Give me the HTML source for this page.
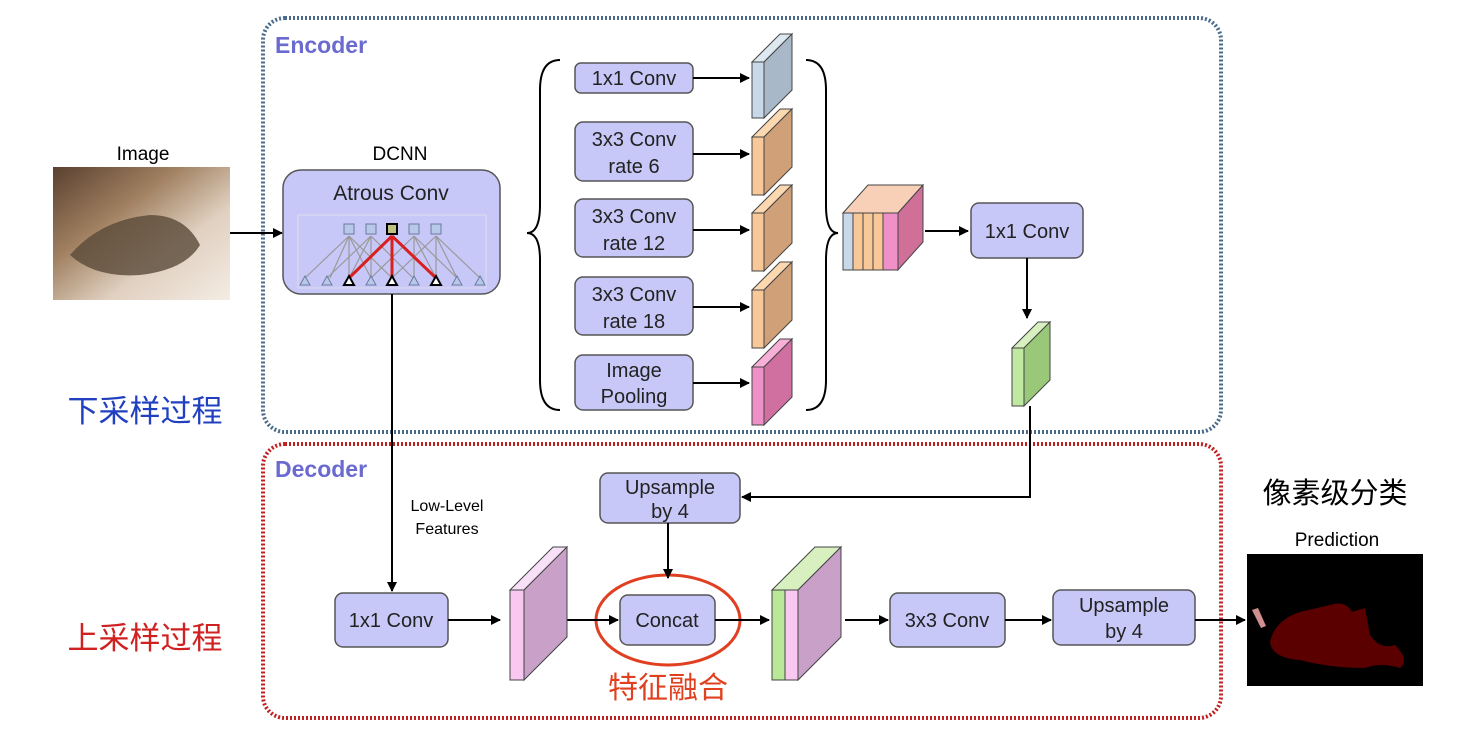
<!DOCTYPE html>
<html><head><meta charset="utf-8"><style>
body{margin:0;background:#fff}
svg text{font-family:"Liberation Sans","Noto Sans CJK SC",sans-serif}
</style></head><body>
<svg width="1480" height="731" viewBox="0 0 1480 731" xmlns="http://www.w3.org/2000/svg">
<defs>
<marker id="a" markerWidth="10" markerHeight="10" refX="9" refY="5" orient="auto" markerUnits="userSpaceOnUse"><path d="M0,0 L10,5 L0,10z" fill="#000"/></marker>
<linearGradient id="cat" x1="0" y1="0" x2="1" y2="1"><stop offset="0" stop-color="#5a4030"/><stop offset="0.35" stop-color="#a08060"/><stop offset="0.65" stop-color="#e0d0c0"/><stop offset="1" stop-color="#f4ece4"/></linearGradient>
</defs>
<rect x="263" y="18" width="958" height="414" rx="22" fill="none" stroke="#4a6a8a" stroke-width="4" stroke-dasharray="2 2"/>
<rect x="263" y="444" width="958" height="274" rx="22" fill="none" stroke="#c02020" stroke-width="4" stroke-dasharray="2 2"/>
<text x="275" y="53" font-size="23" font-weight="bold" fill="#6a6ad0">Encoder</text>
<text x="275" y="477" font-size="23" font-weight="bold" fill="#6a6ad0">Decoder</text>
<text x="145" y="422" font-size="31" fill="#2040c0" text-anchor="middle">下采样过程</text>
<text x="145" y="649" font-size="31" fill="#d02020" text-anchor="middle">上采样过程</text>
<text x="143" y="160" font-size="19" text-anchor="middle">Image</text>
<rect x="53" y="167" width="177" height="133" fill="url(#cat)"/>
<path d="M70,255 Q100,220 150,215 Q185,215 200,245 Q185,270 140,275 Q95,278 70,255z" fill="#5a4a38" opacity="0.8"/>
<line x1="230" y1="233" x2="282" y2="233" stroke="#000" stroke-width="2" marker-end="url(#a)"/>
<text x="400" y="160" font-size="19" text-anchor="middle">DCNN</text>
<rect x="283" y="170" width="217" height="124" rx="18" fill="#c8c8f8" stroke="#555" stroke-width="1.5"/>
<text x="391" y="200" font-size="21" text-anchor="middle" fill="#222">Atrous Conv</text>
<rect x="298" y="215" width="188" height="73" fill="none" stroke="#dde" stroke-width="1"/>
<g stroke="#999" stroke-width="1.2" fill="none">
<path d="M305,278 L349,236 M330,278 L349,236 M349,278 L349,236 M371,278 L349,236 M392,278 L349,236"/>
<path d="M327,278 L371,236 M349,278 L371,236 M371,278 L371,236 M413,278 L371,236"/>
<path d="M371,278 L414,236 M414,278 L414,236 M436,278 L414,236 M457,278 L414,236"/>
<path d="M392,278 L436,236 M436,278 L436,236 M457,278 L436,236 M480,278 L436,236"/>
</g>
<g stroke="#d82020" stroke-width="3"><path d="M349,278 L392,236 M392,278 L392,236 M436,278 L392,236"/></g>
<g fill="#b8c8e8" stroke="#6a7aa0" stroke-width="1"><rect x="344" y="224" width="10" height="10"/><rect x="366" y="224" width="10" height="10"/><rect x="409" y="224" width="10" height="10"/><rect x="431" y="224" width="10" height="10"/></g>
<rect x="387" y="224" width="10" height="10" fill="#c0c080" stroke="#000" stroke-width="2"/>
<g fill="#b8c8e8" stroke="#6a7aa0"><path d="M300,285 l5,-9 l5,9z M322,285 l5,-9 l5,9z M366,285 l5,-9 l5,9z M409,285 l5,-9 l5,9z M452,285 l5,-9 l5,9z M475,285 l5,-9 l5,9z"/></g>
<g fill="#fff" stroke="#000" stroke-width="2"><path d="M344,285 l5,-9 l5,9z M387,285 l5,-9 l5,9z M431,285 l5,-9 l5,9z"/></g>
<path d="M560,60 Q540,60 540,90 L540,205 Q540,233 527,233 Q540,233 540,260 L540,380 Q540,410 560,410" fill="none" stroke="#000" stroke-width="2"/>
<path d="M806,60 Q826,60 826,90 L826,205 Q826,233 838,233 Q826,233 826,260 L826,380 Q826,410 806,410" fill="none" stroke="#000" stroke-width="2"/>
<g fill="#c8c8f8" stroke="#555" stroke-width="1.5">
<rect x="575" y="63" width="118" height="30" rx="6"/>
<rect x="575" y="122" width="118" height="59" rx="8"/>
<rect x="575" y="199" width="118" height="58" rx="8"/>
<rect x="575" y="277" width="118" height="58" rx="8"/>
<rect x="575" y="355" width="118" height="55" rx="8"/>
</g>
<g font-size="20" text-anchor="middle" fill="#222">
<text x="634" y="85">1x1 Conv</text>
<text x="634" y="146">3x3 Conv</text><text x="634" y="173">rate 6</text>
<text x="634" y="223">3x3 Conv</text><text x="634" y="250">rate 12</text>
<text x="634" y="301">3x3 Conv</text><text x="634" y="328">rate 18</text>
<text x="634" y="377">Image</text><text x="634" y="403">Pooling</text>
</g>
<g stroke="#000" stroke-width="2" marker-end="url(#a)">
<line x1="693" y1="78" x2="749" y2="78"/><line x1="693" y1="154" x2="749" y2="154"/>
<line x1="693" y1="230" x2="749" y2="230"/><line x1="693" y1="307" x2="749" y2="307"/>
<line x1="693" y1="383" x2="749" y2="383"/>
</g>
<g stroke="#444" stroke-width="1">
<path d="M752,62 l28,-28 h12 l-28,28z" fill="#dde8f0"/><path d="M764,62 l28,-28 v56 l-28,28z" fill="#a8b8c8"/><rect x="752" y="62" width="12" height="56" fill="#c8d8e8"/>
<path d="M752,137 l28,-28 h12 l-28,28z" fill="#fcd8b0"/><path d="M764,137 l28,-28 v58 l-28,28z" fill="#d0a078"/><rect x="752" y="137" width="12" height="58" fill="#f8c898"/>
<path d="M752,213 l28,-28 h12 l-28,28z" fill="#fcd8b0"/><path d="M764,213 l28,-28 v58 l-28,28z" fill="#d0a078"/><rect x="752" y="213" width="12" height="58" fill="#f8c898"/>
<path d="M752,290 l28,-28 h12 l-28,28z" fill="#fcd8b0"/><path d="M764,290 l28,-28 v58 l-28,28z" fill="#d0a078"/><rect x="752" y="290" width="12" height="58" fill="#f8c898"/>
<path d="M752,367 l28,-28 h12 l-28,28z" fill="#f8b0d8"/><path d="M764,367 l28,-28 v58 l-28,28z" fill="#d070a0"/><rect x="752" y="367" width="12" height="58" fill="#f090c8"/>
<path d="M843,213 l25,-28 h55 l-25,28z" fill="#f8d0b8"/>
<path d="M898,213 l25,-28 v57 l-25,28z" fill="#d07098"/>
<rect x="843" y="213" width="10" height="57" fill="#c8d8e8"/><rect x="853" y="213" width="10" height="57" fill="#f8c898"/><rect x="863" y="213" width="10" height="57" fill="#f8c898"/><rect x="873" y="213" width="10" height="57" fill="#f8c898"/><rect x="883" y="213" width="15" height="57" fill="#f090c8"/>
<path d="M1012,348 l26,-26 h12 l-26,26z" fill="#d8f0c0"/><path d="M1024,348 l26,-26 v58 l-26,26z" fill="#98c878"/><rect x="1012" y="348" width="12" height="58" fill="#c0e8a0"/>
</g>
<line x1="925" y1="231" x2="968" y2="231" stroke="#000" stroke-width="2" marker-end="url(#a)"/>
<rect x="971" y="203" width="112" height="55" rx="8" fill="#c8c8f8" stroke="#555" stroke-width="1.5"/>
<text x="1027" y="238" font-size="20" text-anchor="middle" fill="#222">1x1 Conv</text>
<line x1="1027" y1="258" x2="1027" y2="318" stroke="#000" stroke-width="2" marker-end="url(#a)"/>
<polyline points="1030,406 1030,497 742,497" fill="none" stroke="#000" stroke-width="2" marker-end="url(#a)"/>
<line x1="392" y1="294" x2="392" y2="591" stroke="#000" stroke-width="2" marker-end="url(#a)"/>
<text x="447" y="511" font-size="16" text-anchor="middle">Low-Level</text>
<text x="447" y="534" font-size="16" text-anchor="middle">Features</text>
<g fill="#c8c8f8" stroke="#555" stroke-width="1.5">
<rect x="600" y="473" width="140" height="50" rx="8"/>
<rect x="335" y="593" width="113" height="54" rx="8"/>
<rect x="620" y="595" width="95" height="50" rx="8"/>
<rect x="890" y="593" width="115" height="54" rx="8"/>
<rect x="1053" y="590" width="142" height="55" rx="8"/>
</g>
<g font-size="20" text-anchor="middle" fill="#222">
<text x="670" y="494">Upsample</text><text x="670" y="518">by 4</text>
<text x="391" y="627">1x1 Conv</text>
<text x="667" y="627">Concat</text>
<text x="947" y="627">3x3 Conv</text>
<text x="1124" y="612">Upsample</text><text x="1124" y="638">by 4</text>
</g>
<ellipse cx="668" cy="620" rx="72" ry="45" fill="none" stroke="#e04020" stroke-width="3"/>
<text x="668" y="698" font-size="30" text-anchor="middle" fill="#e04020">特征融合</text>
<line x1="668" y1="523" x2="668" y2="578" stroke="#000" stroke-width="2" marker-end="url(#a)"/>
<g stroke="#000" stroke-width="2" marker-end="url(#a)">
<line x1="448" y1="620" x2="500" y2="620"/><line x1="567" y1="620" x2="618" y2="620"/>
<line x1="715" y1="620" x2="769" y2="620"/><line x1="845" y1="620" x2="888" y2="620"/>
<line x1="1005" y1="620" x2="1051" y2="620"/><line x1="1195" y1="620" x2="1245" y2="620"/>
</g>
<g stroke="#444" stroke-width="1">
<path d="M510,590 l43,-43 h14 l-43,43z" fill="#f8e0f8"/><path d="M524,590 l43,-43 v90 l-43,43z" fill="#c8a0c8"/><rect x="510" y="590" width="14" height="90" fill="#f8c8f0"/>
<path d="M772,590 l43,-43 h26 l-43,43z" fill="#d8f0c0"/><path d="M798,590 l43,-43 v90 l-43,43z" fill="#c8a0c8"/>
<rect x="772" y="590" width="13" height="90" fill="#b8e898"/><rect x="785" y="590" width="13" height="90" fill="#f8c8f0"/>
</g>
<text x="1335" y="503" font-size="29" text-anchor="middle">像素级分类</text>
<text x="1337" y="546" font-size="19" text-anchor="middle">Prediction</text>
<rect x="1247" y="554" width="176" height="132" fill="#000"/>
<path d="M1270,642 Q1275,620 1300,612 L1330,605 Q1345,600 1352,612 L1365,608 L1370,635 Q1380,650 1395,645 Q1410,660 1400,668 Q1380,662 1365,668 Q1330,668 1300,660 Q1272,658 1270,642z" fill="#5a0000"/>
<path d="M1252,610 l6,-2 l8,18 l-5,2z" fill="#d09090"/>
</svg>
</body></html>
